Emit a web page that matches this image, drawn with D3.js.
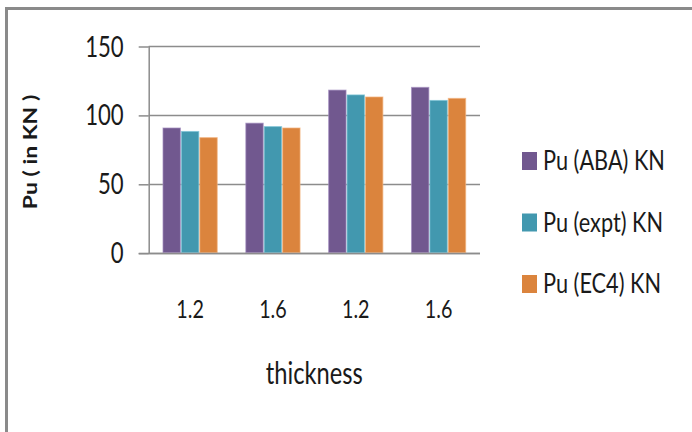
<!DOCTYPE html>
<html>
<head>
<meta charset="utf-8">
<script src="https://cdn.jsdelivr.net/npm/d3@7"></script>
<style>
  html, body { margin: 0; padding: 0; background: #fff; }
  svg { display: block; font-family: Lato, "Open Sans", sans-serif; }
</style>
</head>
<body>
<svg id="chart" width="692" height="432"></svg>
<script>
// Ultimate load Pu per specimen, grouped by sheet thickness
const categories = ["1.2", "1.6", "1.2", "1.6"];
const seriesNames = ["Pu (ABA) KN", "Pu (expt) KN", "Pu (EC4) KN"];
const puABA  = [90.5, 94, 118, 120];
const puExpt = [88, 91.5, 114.5, 110.5];
const puEC4  = [83.5, 90.5, 113, 112];
const yTicks = [0, 50, 100, 150];
const colors = ["#71588f", "#4298af", "#db843d"];
const edgeColors = ["#a48fc0", "#7cc3d6", "#f2b27d"];

const seriesValues = [puABA, puExpt, puEC4];
const SX = 0.79; // horizontal squeeze applied to all lettering

const svg = d3.select("#chart");

// outer frame (only top and left edges fall inside the view)
svg.append("path")
  .attr("d", "M6.5,440 V8.5 H700")
  .attr("fill", "none")
  .attr("stroke", "#8a8a8a")
  .attr("stroke-width", 3);

const plot = { left: 148.7, right: 480, top: 46, bottom: 252.7 };

const y = d3.scaleLinear().domain([0, 150]).range([plot.bottom, plot.top]);
const x0 = d3.scaleBand()
  .domain(d3.range(categories.length))
  .range([plot.left, plot.right])
  .paddingInner(0.333)
  .paddingOuter(0.1665);
const x1 = d3.scaleBand()
  .domain(d3.range(seriesNames.length))
  .range([0, x0.bandwidth()]);

// horizontal gridlines
svg.append("g")
  .selectAll("line")
  .data(yTicks)
  .join("line")
  .attr("x1", plot.left)
  .attr("x2", plot.right)
  .attr("y1", d => Math.round(y(d)) + 0.5)
  .attr("y2", d => Math.round(y(d)) + 0.5)
  .attr("stroke", "#8c8c8c")
  .attr("stroke-width", 1.5);

// value axis
const yAxis = svg.append("g")
  .attr("transform", `translate(${plot.left},0)`)
  .call(d3.axisLeft(y).tickValues(yTicks).tickSize(10).tickPadding(0));
yAxis.select(".domain").remove();
yAxis.selectAll(".tick line")
  .attr("stroke", "#8c8c8c")
  .attr("stroke-width", 1.5)
  .attr("transform", "translate(0,0.5)");
yAxis.selectAll(".tick text")
  .attr("x", null)
  .attr("dy", null)
  .attr("transform", `translate(-25,10) scale(${SX},1)`)
  .attr("font-family", "Lato")
  .attr("font-size", 28)
  .attr("fill", "#1a1a1a");

// vertical axis line
svg.append("line")
  .attr("x1", plot.left + 0.5).attr("x2", plot.left + 0.5)
  .attr("y1", y(150)).attr("y2", y(0) + 1)
  .attr("stroke", "#8c8c8c")
  .attr("stroke-width", 1.5);

// bars
const groups = svg.append("g")
  .selectAll("g")
  .data(categories.map((c, i) => i))
  .join("g")
  .attr("transform", i => `translate(${x0(i)},0)`);

groups.selectAll("rect")
  .data(i => seriesValues.map((vals, s) => ({ s, v: vals[i] })))
  .join("rect")
  .attr("x", d => x1(d.s) + 0.5)
  .attr("width", x1.bandwidth() - 1)
  .attr("y", d => y(d.v))
  .attr("height", d => y(0) - y(d.v))
  .attr("fill", d => colors[d.s])
  .attr("stroke", d => edgeColors[d.s])
  .attr("stroke-width", 1)
  .attr("stroke-opacity", 0.7);

// redraw baseline over bar bottoms
svg.append("line")
  .attr("x1", plot.left - 10).attr("x2", plot.right)
  .attr("y1", Math.round(y(0)) + 0.5).attr("y2", Math.round(y(0)) + 0.5)
  .attr("stroke", "#8c8c8c")
  .attr("stroke-width", 1.5);

// category labels
const xAxis = svg.append("g")
  .attr("transform", `translate(0,${plot.bottom})`)
  .call(d3.axisBottom(x0).tickSize(0).tickFormat(i => categories[i]));
xAxis.select(".domain").remove();
xAxis.selectAll(".tick text")
  .attr("y", null)
  .attr("dy", null)
  .attr("transform", `translate(0,65) scale(${SX},1)`)
  .attr("font-family", "Lato")
  .attr("font-size", 25)
  .attr("fill", "#1a1a1a");

// axis titles
svg.append("text")
  .attr("transform", `translate(${(plot.left + plot.right) / 2},384) scale(${SX},1)`)
  .attr("text-anchor", "middle")
  .attr("font-size", 30)
  .attr("fill", "#1a1a1a")
  .text("thickness");

svg.append("text")
  .attr("transform", `translate(37,152) scale(${SX},1) rotate(-90)`)
  .attr("text-anchor", "middle")
  .attr("font-size", 23)
  .attr("font-weight", "bold")
  .attr("fill", "#1a1a1a")
  .text("Pu ( in KN )");

// legend
const legend = svg.append("g")
  .selectAll("g")
  .data(seriesNames)
  .join("g")
  .attr("transform", (d, i) => `translate(522,${152 + i * 61.5})`);

legend.append("rect")
  .attr("width", 15)
  .attr("height", 18)
  .attr("fill", (d, i) => colors[i]);

legend.append("text")
  .attr("transform", `translate(21,18) scale(${SX},1)`)
  .attr("font-size", 27.5)
  .attr("fill", "#1a1a1a")
  .text(d => d);
</script>
</body>
</html>
